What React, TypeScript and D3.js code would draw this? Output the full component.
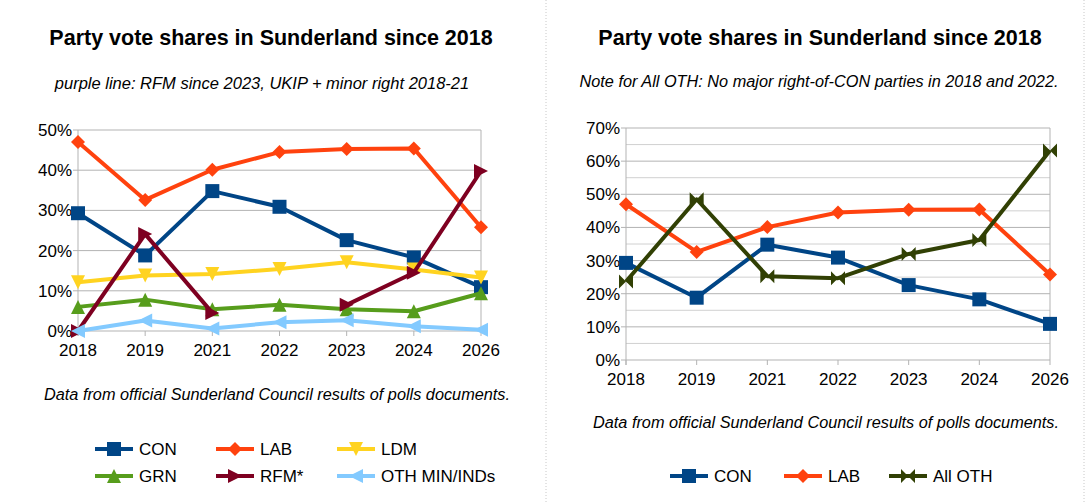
import React from "react";
import * as d3 from "d3";

const years = ["2018", "2019", "2021", "2022", "2023", "2024", "2026"];
const con = [29.3, 18.8, 34.8, 30.9, 22.6, 18.3, 10.9];
const lab = [47.0, 32.6, 40.1, 44.5, 45.3, 45.4, 25.8];
const ldm = [12.1, 13.8, 14.2, 15.4, 17.1, 15.3, 13.3];
const grn = [6.0, 7.8, 5.4, 6.5, 5.4, 4.9, 9.4];
const rfm: (number | null)[] = [0, 24.1, 4.5, null, 6.5, 14.5, 39.8];
const oth = [0, 2.6, 0.6, 2.2, 2.7, 1.2, 0.3];
const allOth = [23.7, 48.5, 25.3, 24.7, 32.0, 36.2, 63.2];

type S = { name: string; values: (number | null)[]; color: string; marker: string };
const leftSeries: S[] = [
  { name: "CON", values: con, color: "#004586", marker: "square" },
  { name: "LAB", values: lab, color: "#ff420e", marker: "diamond" },
  { name: "LDM", values: ldm, color: "#ffd320", marker: "down" },
  { name: "GRN", values: grn, color: "#579d1c", marker: "up" },
  { name: "RFM*", values: rfm, color: "#7e0021", marker: "right" },
  { name: "OTH MIN/INDs", values: oth, color: "#83caff", marker: "left" },
];
const rightSeries: S[] = [
  { name: "CON", values: con, color: "#004586", marker: "square" },
  { name: "LAB", values: lab, color: "#ff420e", marker: "diamond" },
  { name: "All OTH", values: allOth, color: "#314004", marker: "bowtie" },
];

const font = "Liberation Sans, Arial";

function Marker({ type, x, y, color, s = 7 }: { type: string; x: number; y: number; color: string; s?: number }) {
  let d = "";
  if (type === "square") d = `M${x - s},${y - s}h${2 * s}v${2 * s}h${-2 * s}Z`;
  else if (type === "diamond") d = `M${x},${y - s}L${x + s},${y}L${x},${y + s}L${x - s},${y}Z`;
  else if (type === "down") d = `M${x - s},${y - s}L${x + s},${y - s}L${x},${y + s}Z`;
  else if (type === "up") d = `M${x - s},${y + s}L${x + s},${y + s}L${x},${y - s}Z`;
  else if (type === "right") d = `M${x - s},${y - s}L${x + s},${y}L${x - s},${y + s}Z`;
  else if (type === "left") d = `M${x + s},${y - s}L${x - s},${y}L${x + s},${y + s}Z`;
  else if (type === "bowtie") d = `M${x - s},${y - s}L${x + s},${y + s}L${x + s},${y - s}L${x - s},${y + s}Z`;
  return <path d={d} fill={color} />;
}

function Chart({ series, x0, x1, yTop, yBot, max, minor }: { series: S[]; x0: number; x1: number; yTop: number; yBot: number; max: number; minor: boolean }) {
  const x = d3.scalePoint<string>().domain(years).range([x0, x1]);
  const y = d3.scaleLinear().domain([0, max]).range([yBot, yTop]);
  const ticks = d3.range(0, max + 1, 10);
  const minorTicks = minor ? d3.range(5, max, 10) : [];
  return (
    <g>
      {minorTicks.map((t) => (
        <line key={"m" + t} x1={x0} x2={x1} y1={y(t)} y2={y(t)} stroke="#d0d0d0" strokeWidth={1} />
      ))}
      {ticks.map((t) => (
        <g key={t}>
          <line x1={x0 - 5} x2={x1} y1={y(t)} y2={y(t)} stroke="#b3b3b3" strokeWidth={1} />
          <text x={x0 - 6} y={y(t)} dy="0.35em" textAnchor="end" fontSize={17} fontFamily={font} fill="#000">{t}%</text>
        </g>
      ))}
      {years.map((yr) => (
        <g key={yr}>
          <line x1={x(yr)} x2={x(yr)} y1={yBot} y2={yBot + 5} stroke="#b3b3b3" />
          <text x={x(yr)} y={yBot + 25} textAnchor="middle" fontSize={17} fontFamily={font}>{yr}</text>
        </g>
      ))}
      <line x1={x1} x2={x1} y1={yTop} y2={yBot} stroke="#b3b3b3" />
      <line x1={x0} x2={x0} y1={yTop} y2={yBot + 5} stroke="#b3b3b3" />
      {series.map((s) => {
        const line = d3
          .line<number | null>()
          .defined((v) => v !== null)
          .x((_, i) => x(years[i])!)
          .y((v) => y(v as number));
        return (
          <g key={s.name}>
            <path d={line(s.values) || ""} fill="none" stroke={s.color} strokeWidth={4} strokeLinejoin="round" />
            {s.values.map((v, i) =>
              v === null ? null : <Marker key={i} type={s.marker} x={x(years[i])!} y={y(v)} color={s.color} />
            )}
          </g>
        );
      })}
    </g>
  );
}

function LegendItem({ s, x, y }: { s: S; x: number; y: number }) {
  return (
    <g>
      <line x1={x} x2={x + 38} y1={y} y2={y} stroke={s.color} strokeWidth={4} />
      <Marker type={s.marker} x={x + 19} y={y} color={s.color} />
      <text x={x + 44} y={y} dy="0.35em" fontSize={17} fontFamily={font}>{s.name}</text>
    </g>
  );
}

export default function App() {
  return (
    <svg width={1090} height={504} style={{ position: "absolute", left: 0, top: 0, background: "#fff" }}>
      <rect width={1090} height={504} fill="#fff" />
      <line x1={546} x2={546} y1={0} y2={504} stroke="#c8c8c8" strokeDasharray="1,2" />
      <line x1={1084} x2={1084} y1={0} y2={504} stroke="#c8c8c8" strokeDasharray="1,2" />
      <text x={271} y={45} textAnchor="middle" fontSize={21.5} fontWeight="bold" fontFamily={font}>Party vote shares in Sunderland since 2018</text>
      <text x={262} y={89} textAnchor="middle" fontSize={16.5} fontStyle="italic" fontFamily={font}>purple line: RFM since 2023, UKIP + minor right 2018-21</text>
      <Chart series={leftSeries} x0={78} x1={481} yTop={130} yBot={331} max={50} minor={false} />
      <text x={277} y={400} textAnchor="middle" fontSize={16.3} fontStyle="italic" fontFamily={font}>Data from official Sunderland Council results of polls documents.</text>
      {leftSeries.map((s, i) => (
        <LegendItem key={s.name} s={s} x={95 + (i % 3) * 121} y={449 + Math.floor(i / 3) * 27} />
      ))}

      <text x={820} y={45} textAnchor="middle" fontSize={21.5} fontWeight="bold" fontFamily={font}>Party vote shares in Sunderland since 2018</text>
      <text x={819} y={87} textAnchor="middle" fontSize={16.3} fontStyle="italic" fontFamily={font}>Note for All OTH: No major right-of-CON parties in 2018 and 2022.</text>
      <Chart series={rightSeries} x0={626} x1={1050} yTop={128} yBot={360} max={70} minor={true} />
      <text x={826} y={428} textAnchor="middle" fontSize={16.3} fontStyle="italic" fontFamily={font}>Data from official Sunderland Council results of polls documents.</text>
      {rightSeries.map((s, i) => (
        <LegendItem key={s.name} s={s} x={[670, 784, 889][i]} y={476} />
      ))}
    </svg>
  );
}
